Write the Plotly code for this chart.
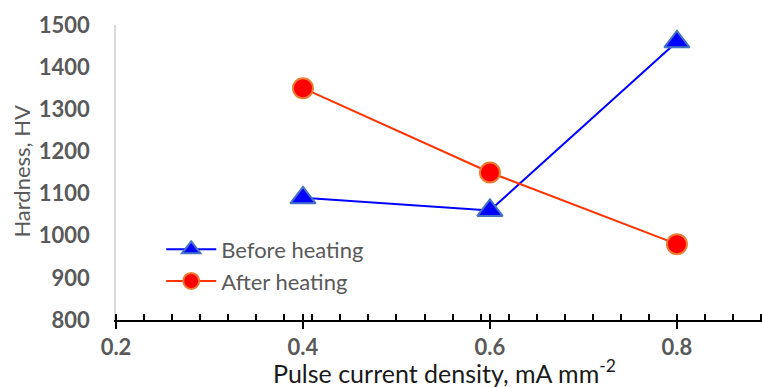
import plotly.graph_objects as go

# Hardness versus pulse current density
current_density = [0.4, 0.6, 0.8]
hardness_before = [1090, 1060, 1460]
hardness_after = [1350, 1150, 980]

x_major_ticks = [0.2, 0.4, 0.6, 0.8]
y_ticks = [800, 900, 1000, 1100, 1200, 1300, 1400, 1500]

GRAY = "#595959"
FONT = "Lato"

fig = go.Figure()

fig.add_trace(go.Scatter(
    x=current_density, y=hardness_before, name="Before heating",
    mode="lines+markers",
    line=dict(color="#0000FF", width=2),
    marker=dict(symbol="triangle-up", size=22, color="#0000FF",
                line=dict(color="#4472C4", width=2)),
))
fig.add_trace(go.Scatter(
    x=current_density, y=hardness_after, name="After heating",
    mode="lines+markers",
    line=dict(color="#FF3300", width=2),
    marker=dict(symbol="circle", size=20, color="#FF0000",
                line=dict(color="#ED7D31", width=2)),
))

x_range = [0.2, 0.891]

fig.update_layout(
    width=762, height=387,
    margin=dict(l=116, r=0, t=25, b=67),
    paper_bgcolor="white", plot_bgcolor="white",
    font=dict(family=FONT, color=GRAY),
    showlegend=True,
    legend=dict(
        x=0.07, y=0.31, xanchor="left", yanchor="top",
        bgcolor="rgba(0,0,0,0)",
        font=dict(family=FONT, size=22, color=GRAY),
        itemwidth=50, tracegroupgap=0,
    ),
    xaxis=dict(
        range=x_range, tickvals=x_major_ticks,
        ticktext=[f"{v:.1f}" for v in x_major_ticks],
        showgrid=False, zeroline=False,
        showline=True, linecolor="black", linewidth=1.5,
        ticks="outside", ticklen=7, tickwidth=1.5, tickcolor="black",
        tickfont=dict(family=FONT, size=22, color=GRAY, weight="bold"),
        minor=dict(ticks="inside", ticklen=6, tickwidth=1.5,
                   tickcolor="black", tick0=0.2, dtick=0.03),
    ),
    xaxis2=dict(
        range=x_range, overlaying="x", side="bottom",
        anchor="y",
        tickvals=x_major_ticks, showticklabels=False,
        showgrid=False, zeroline=False, showline=False,
        ticks="inside", ticklen=6, tickwidth=1.5, tickcolor="black",
    ),
    yaxis=dict(
        range=[800, 1500], tickvals=y_ticks,
        showgrid=False, zeroline=False,
        showline=True, linecolor="#D9D9D9", linewidth=1.5,
        ticks="", ticklabelstandoff=20,
        tickfont=dict(family=FONT, size=22, color=GRAY, weight="bold"),
    ),
    annotations=[
        dict(
            text="Pulse current density, mA mm<sup>-2</sup>",
            xref="paper", yref="paper", x=0.508, y=-0.176,
            xanchor="center", yanchor="middle", showarrow=False,
            font=dict(family=FONT, size=25, color="#1A1A1A"),
        ),
        dict(
            text="Hardness, HV", textangle=-90,
            xref="paper", yref="paper", x=-0.1455, y=0.503,
            xanchor="center", yanchor="middle", showarrow=False,
            font=dict(family=FONT, size=22, color=GRAY),
        ),
    ],
)

# invisible trace to activate the overlay axis carrying the inner half of major ticks
fig.add_trace(go.Scatter(x=[0.2], y=[800], xaxis="x2", mode="markers",
                         marker=dict(opacity=0), showlegend=False,
                         hoverinfo="skip"))

fig.write_html("out.html")
